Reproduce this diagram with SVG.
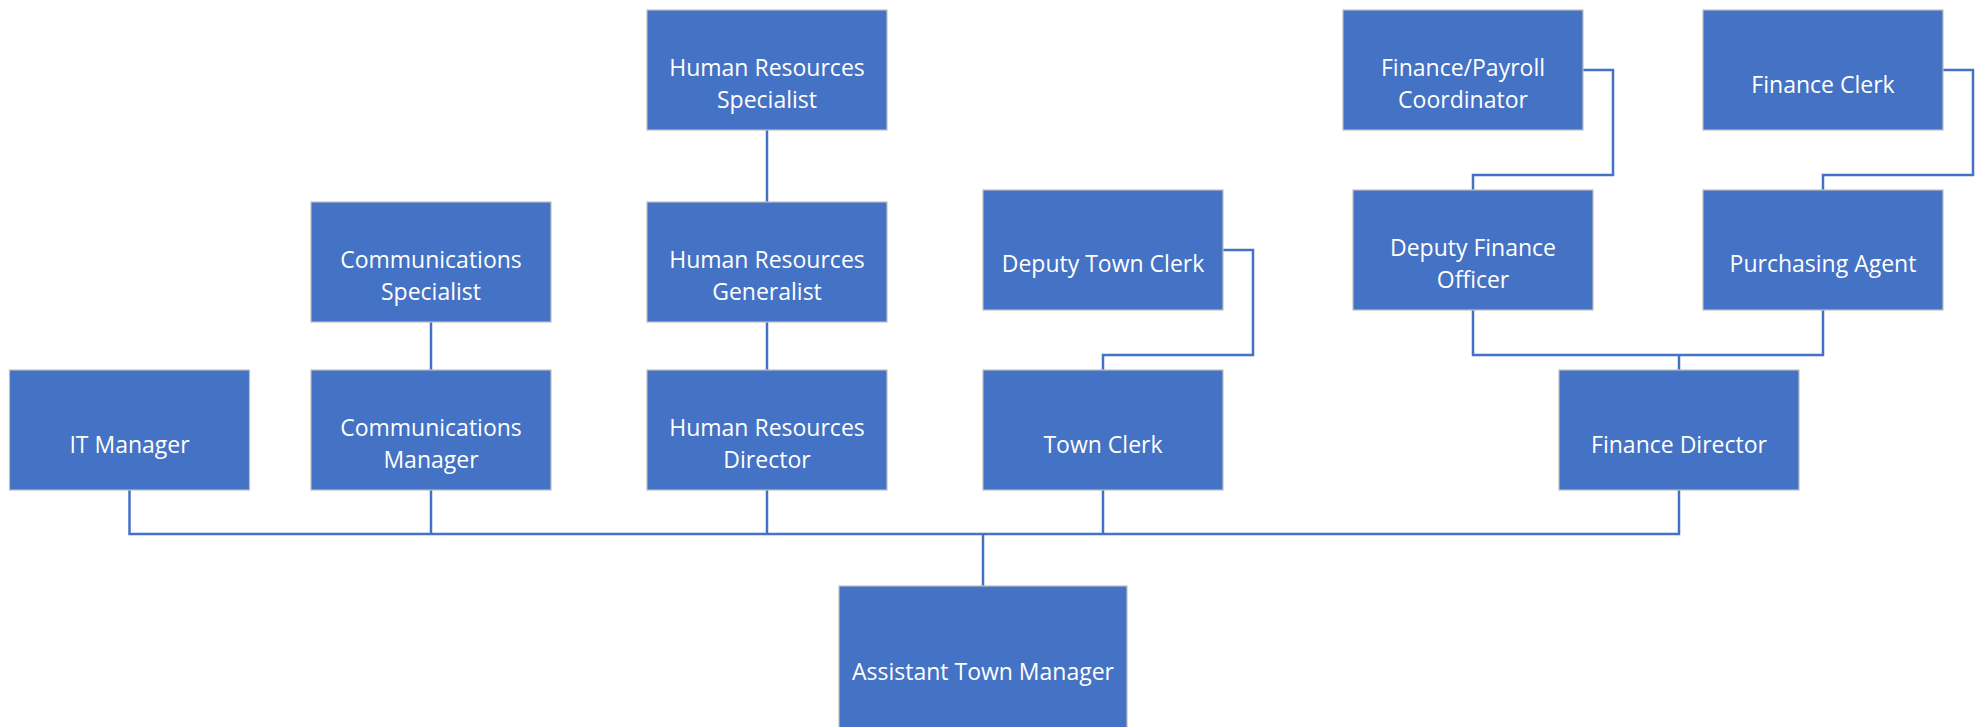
<svg xmlns="http://www.w3.org/2000/svg" width="1980" height="727" viewBox="0 0 1980 727">
<style>
.box{fill:#4472C4;stroke:#BFBFBF;stroke-width:1.2}
.t{font-family:"Open Sans","Noto Sans","Liberation Sans",sans-serif;font-size:23px;fill:#FFFFFF;text-anchor:middle}
.c{fill:none;stroke:#4472C4;stroke-width:2.5;stroke-linejoin:miter}
</style>
<rect width="1980" height="727" fill="#FFFFFF"/>
<g id="connectors">
<path class="c" d="M129.5,490 V534 H1679 V490"/>
<path class="c" d="M431,490 V534"/>
<path class="c" d="M767,490 V534"/>
<path class="c" d="M1103,490 V534"/>
<path class="c" d="M983,534 V586"/>
<path class="c" d="M431,322 V370"/>
<path class="c" d="M767,130 V202"/>
<path class="c" d="M767,322 V370"/>
<path class="c" d="M1223,250 H1253 V355 H1103 V370"/>
<path class="c" d="M1583,70 H1613 V175 H1473 V190"/>
<path class="c" d="M1943,70 H1973 V175 H1823 V190"/>
<path class="c" d="M1473,310 V355 H1823 V310"/>
<path class="c" d="M1679,355 V370"/>
</g>
<g id="it-manager"><rect class="box" x="9.5" y="370" width="240" height="120"/><text class="t" x="129.5" y="452.5">IT Manager</text></g>
<g id="communications-manager"><rect class="box" x="311" y="370" width="240" height="120"/><text class="t" x="431" y="436">Communications</text><text class="t" x="431" y="468">Manager</text></g>
<g id="communications-specialist"><rect class="box" x="311" y="202" width="240" height="120"/><text class="t" x="431" y="268">Communications</text><text class="t" x="431" y="300">Specialist</text></g>
<g id="hr-director"><rect class="box" x="647" y="370" width="240" height="120"/><text class="t" x="767" y="436">Human Resources</text><text class="t" x="767" y="468">Director</text></g>
<g id="hr-generalist"><rect class="box" x="647" y="202" width="240" height="120"/><text class="t" x="767" y="268">Human Resources</text><text class="t" x="767" y="300">Generalist</text></g>
<g id="hr-specialist"><rect class="box" x="647" y="10" width="240" height="120"/><text class="t" x="767" y="76">Human Resources</text><text class="t" x="767" y="108">Specialist</text></g>
<g id="town-clerk"><rect class="box" x="983" y="370" width="240" height="120"/><text class="t" x="1103" y="452.5">Town Clerk</text></g>
<g id="deputy-town-clerk"><rect class="box" x="983" y="190" width="240" height="120"/><text class="t" x="1103" y="272">Deputy Town Clerk</text></g>
<g id="finance-payroll-coordinator"><rect class="box" x="1343" y="10" width="240" height="120"/><text class="t" x="1463" y="76">Finance/Payroll</text><text class="t" x="1463" y="108">Coordinator</text></g>
<g id="finance-clerk"><rect class="box" x="1703" y="10" width="240" height="120"/><text class="t" x="1823" y="92.5">Finance Clerk</text></g>
<g id="deputy-finance-officer"><rect class="box" x="1353" y="190" width="240" height="120"/><text class="t" x="1473" y="256">Deputy Finance</text><text class="t" x="1473" y="288">Officer</text></g>
<g id="purchasing-agent"><rect class="box" x="1703" y="190" width="240" height="120"/><text class="t" x="1823" y="272">Purchasing Agent</text></g>
<g id="finance-director"><rect class="box" x="1559" y="370" width="240" height="120"/><text class="t" x="1679" y="452.5">Finance Director</text></g>
<g id="assistant-town-manager"><rect class="box" x="839" y="586" width="288" height="170"/><text class="t" x="983" y="680">Assistant Town Manager</text></g>
</svg>
